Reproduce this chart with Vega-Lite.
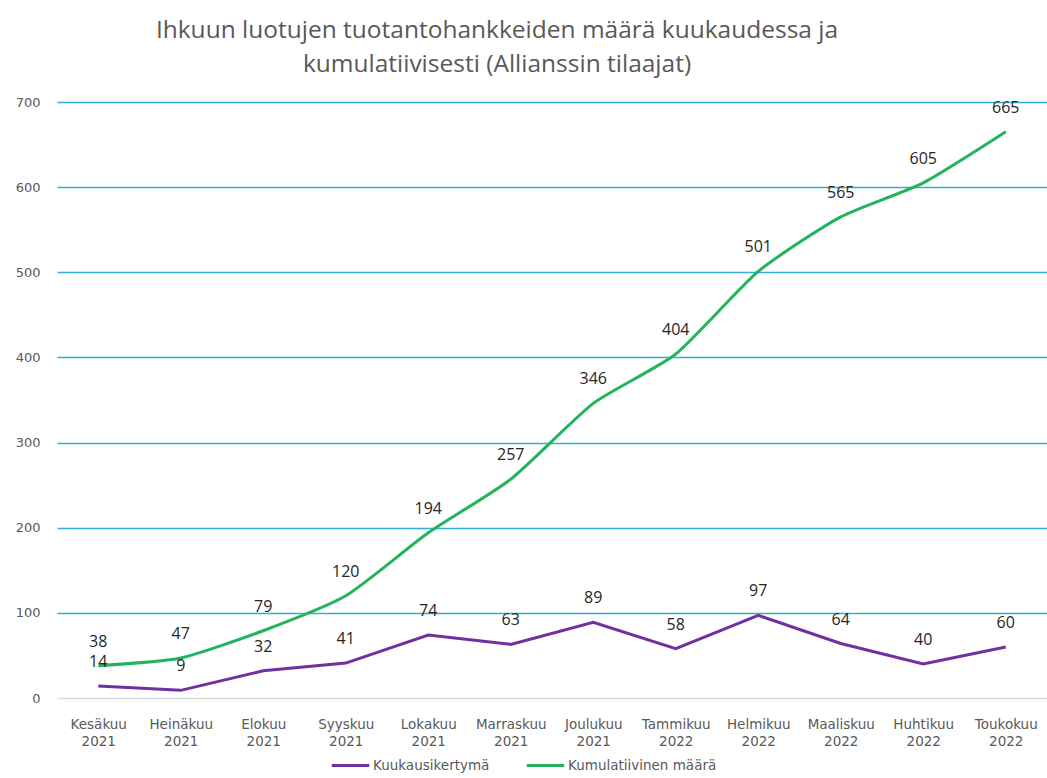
{
  "$schema": "https://vega.github.io/schema/vega-lite/v6.json",
  "autosize": "none",
  "width": 990,
  "height": 596,
  "padding": {"left": 57, "top": 102, "right": 0, "bottom": 80},
  "background": "white",
  "title": {
    "text": ["Ihkuun luotujen tuotantohankkeiden määrä kuukaudessa ja", "kumulatiivisesti (Allianssin tilaajat)"],
    "font": "Open Sans",
    "fontSize": 24.5,
    "fontWeight": "normal",
    "color": "#595959",
    "anchor": "middle",
    "dx": -55,
    "offset": 19,
    "lineHeight": 34
  },
  "config": {
    "view": {"stroke": null},
    "font": "Open Sans"
  },
  "data": {
    "values": [
      {"kk": "Kesäkuu 2021", "sarja": "Kuukausikertymä", "arvo": 14},
      {"kk": "Kesäkuu 2021", "sarja": "Kumulatiivinen määrä", "arvo": 38},
      {"kk": "Heinäkuu 2021", "sarja": "Kuukausikertymä", "arvo": 9},
      {"kk": "Heinäkuu 2021", "sarja": "Kumulatiivinen määrä", "arvo": 47},
      {"kk": "Elokuu 2021", "sarja": "Kuukausikertymä", "arvo": 32},
      {"kk": "Elokuu 2021", "sarja": "Kumulatiivinen määrä", "arvo": 79},
      {"kk": "Syyskuu 2021", "sarja": "Kuukausikertymä", "arvo": 41},
      {"kk": "Syyskuu 2021", "sarja": "Kumulatiivinen määrä", "arvo": 120},
      {"kk": "Lokakuu 2021", "sarja": "Kuukausikertymä", "arvo": 74},
      {"kk": "Lokakuu 2021", "sarja": "Kumulatiivinen määrä", "arvo": 194},
      {"kk": "Marraskuu 2021", "sarja": "Kuukausikertymä", "arvo": 63},
      {"kk": "Marraskuu 2021", "sarja": "Kumulatiivinen määrä", "arvo": 257},
      {"kk": "Joulukuu 2021", "sarja": "Kuukausikertymä", "arvo": 89},
      {"kk": "Joulukuu 2021", "sarja": "Kumulatiivinen määrä", "arvo": 346},
      {"kk": "Tammikuu 2022", "sarja": "Kuukausikertymä", "arvo": 58},
      {"kk": "Tammikuu 2022", "sarja": "Kumulatiivinen määrä", "arvo": 404},
      {"kk": "Helmikuu 2022", "sarja": "Kuukausikertymä", "arvo": 97},
      {"kk": "Helmikuu 2022", "sarja": "Kumulatiivinen määrä", "arvo": 501},
      {"kk": "Maaliskuu 2022", "sarja": "Kuukausikertymä", "arvo": 64},
      {"kk": "Maaliskuu 2022", "sarja": "Kumulatiivinen määrä", "arvo": 565},
      {"kk": "Huhtikuu 2022", "sarja": "Kuukausikertymä", "arvo": 40},
      {"kk": "Huhtikuu 2022", "sarja": "Kumulatiivinen määrä", "arvo": 605},
      {"kk": "Toukokuu 2022", "sarja": "Kuukausikertymä", "arvo": 60},
      {"kk": "Toukokuu 2022", "sarja": "Kumulatiivinen määrä", "arvo": 665}
    ]
  },
  "encoding": {
    "x": {
      "field": "kk",
      "type": "nominal",
      "sort": null,
      "scale": {"paddingInner": 0, "paddingOuter": 0},
      "axis": {
        "title": null,
        "labelAngle": 0,
        "labelExpr": "split(datum.value, ' ')",
        "labelFont": "DejaVu Sans",
        "labelFontSize": 13.5,
        "labelColor": "#595959",
        "labelLineHeight": 17,
        "labelPadding": 19,
        "domain": false,
        "ticks": false,
        "grid": false,
        "labelBaseline": "top"
      }
    },
    "y": {
      "field": "arvo",
      "type": "quantitative",
      "scale": {"domain": [0, 700]},
      "axis": {
        "title": null,
        "values": [0, 100, 200, 300, 400, 500, 600, 700],
        "domain": false,
        "ticks": false,
        "labelFont": "DejaVu Sans",
        "labelFontSize": 13,
        "labelColor": "#595959",
        "labelPadding": 17,
        "gridColor": {"condition": {"test": "datum.value === 0", "value": "#d9d9d9"}, "value": "#33aed0"},
        "gridWidth": 1.3
      }
    },
    "color": {
      "field": "sarja",
      "type": "nominal",
      "sort": null,
      "scale": {"domain": ["Kuukausikertymä", "Kumulatiivinen määrä"], "range": ["#7030a0", "#22b35c"]},
      "legend": {
        "title": null,
        "orient": "none",
        "legendX": 273,
        "legendY": 643,
        "direction": "horizontal",
        "symbolType": "stroke",
        "symbolSize": 1400,
        "symbolStrokeWidth": 3,
        "labelFont": "DejaVu Sans",
        "labelFontSize": 13.5,
        "labelColor": "#595959",
        "labelOffset": 2,
        "columnPadding": 30
      }
    }
  },
  "layer": [
    {
      "transform": [{"filter": "datum.sarja === 'Kuukausikertymä'"}],
      "mark": {"type": "line", "strokeWidth": 3}
    },
    {
      "transform": [{"filter": "datum.sarja === 'Kumulatiivinen määrä'"}],
      "mark": {"type": "line", "strokeWidth": 3, "interpolate": "cardinal", "tension": 0.4}
    },
    {
      "mark": {"type": "text", "dy": -24, "fontSize": 16, "color": "#262626"},
      "encoding": {
        "text": {"field": "arvo", "type": "quantitative"},
        "color": {"value": "#262626"}
      }
    }
  ]
}
